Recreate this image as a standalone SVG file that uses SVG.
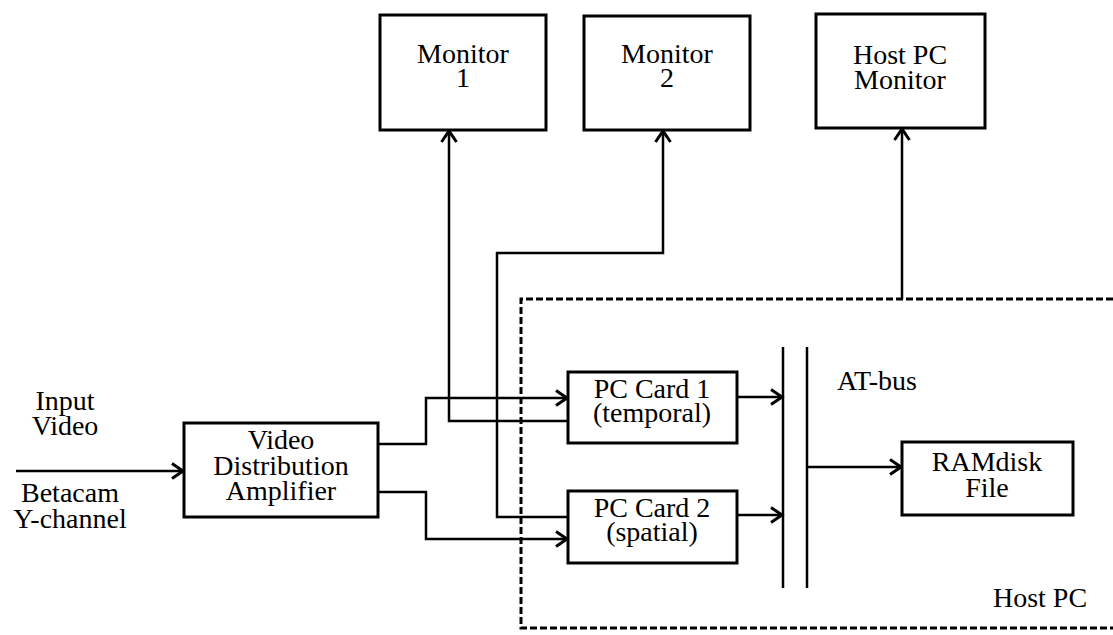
<svg xmlns="http://www.w3.org/2000/svg" width="1113" height="635" viewBox="0 0 1113 635">
<defs>
<style>
.box{fill:#fff;stroke:#000;stroke-width:3}
.ln{fill:none;stroke:#000;stroke-width:2.5}
.dash{fill:none;stroke:#000;stroke-width:3;stroke-dasharray:7 3}
text{font-family:"Liberation Serif","Times New Roman",serif;font-size:28px;fill:#000}
.c{text-anchor:middle}
</style>
<marker id="arr" markerUnits="userSpaceOnUse" markerWidth="16" markerHeight="18" refX="13" refY="9" orient="auto">
<path d="M2,1.5 L13,9 L2,16.5" fill="none" stroke="#000" stroke-width="3"/>
</marker>
</defs>
<rect width="1113" height="635" fill="#fff"/>
<g id="host-pc-region">
<path class="dash" d="M1113 299 H521 V628 H1113"/>
<text x="1040" y="607" class="c">Host PC</text>
</g>
<g id="connectors">
<path class="ln" d="M16 471 H183" marker-end="url(#arr)"/>
<path class="ln" d="M378 444 H426 V398 H567" marker-end="url(#arr)"/>
<path class="ln" d="M378 492 H426 V539 H567" marker-end="url(#arr)"/>
<path class="ln" d="M568 421 H449 V131" marker-end="url(#arr)"/>
<path class="ln" d="M568 517 H497 V253 H663 V131" marker-end="url(#arr)"/>
<path class="ln" d="M737 397 H782" marker-end="url(#arr)"/>
<path class="ln" d="M737 515 H782" marker-end="url(#arr)"/>
<path class="ln" d="M807 467 H901" marker-end="url(#arr)"/>
<path class="ln" d="M902 299 V129" marker-end="url(#arr)"/>
</g>
<g id="at-bus">
<path class="ln" d="M783 347 V588 M807 347 V588"/>
<text x="837" y="390">AT-bus</text>
</g>
<g id="monitor1">
<rect class="box" x="380" y="15" width="166" height="115"/>
<text x="463" y="63" class="c">Monitor</text>
<text x="463" y="87" class="c">1</text>
</g>
<g id="monitor2">
<rect class="box" x="584" y="16" width="166" height="114"/>
<text x="667" y="63" class="c">Monitor</text>
<text x="667" y="87" class="c">2</text>
</g>
<g id="host-pc-monitor">
<rect class="box" x="816" y="14" width="169" height="114"/>
<text x="900" y="64" class="c">Host PC</text>
<text x="900" y="89" class="c">Monitor</text>
</g>
<g id="input-video">
<text x="65" y="410" class="c">Input</text>
<text x="65" y="435" class="c">Video</text>
<text x="70" y="502" class="c">Betacam</text>
<text x="70" y="528" class="c">Y-channel</text>
</g>
<g id="vda">
<rect class="box" x="184" y="423" width="194" height="94"/>
<text x="281" y="449" class="c">Video</text>
<text x="281" y="475" class="c">Distribution</text>
<text x="281" y="500" class="c">Amplifier</text>
</g>
<g id="pc-card-1">
<rect class="box" x="568" y="372" width="169" height="71"/>
<text x="652" y="398" class="c">PC Card 1</text>
<text x="652" y="422" class="c">(temporal)</text>
</g>
<g id="pc-card-2">
<rect class="box" x="568" y="491" width="169" height="72"/>
<text x="652" y="517" class="c">PC Card 2</text>
<text x="652" y="541" class="c">(spatial)</text>
</g>
<g id="ramdisk">
<rect class="box" x="902" y="442" width="171" height="73"/>
<text x="987" y="471" class="c">RAMdisk</text>
<text x="987" y="497" class="c">File</text>
</g>
</svg>
